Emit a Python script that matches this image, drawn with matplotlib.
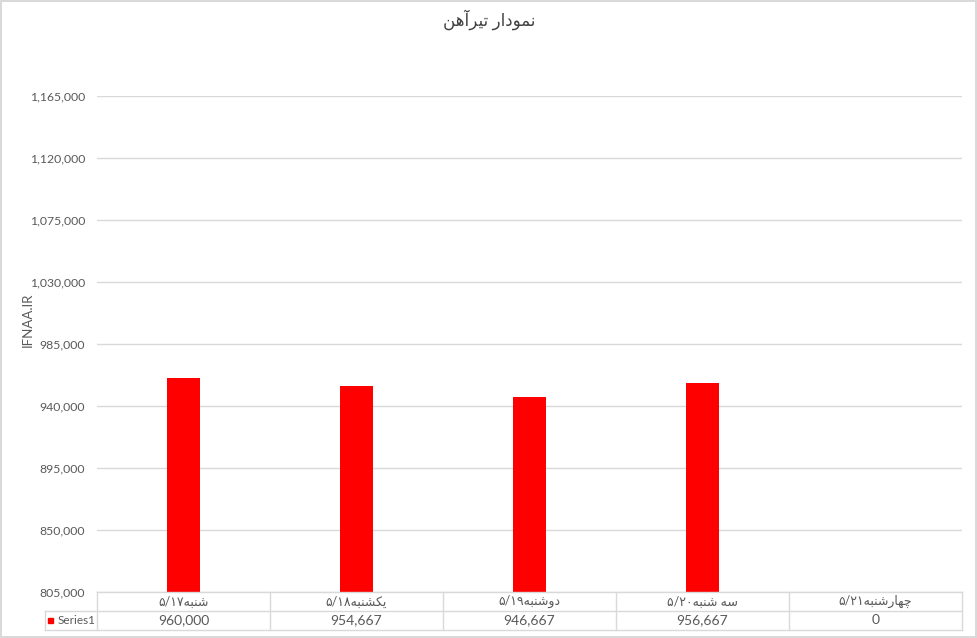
import matplotlib
matplotlib.use('Agg')
import matplotlib.pyplot as plt
from matplotlib.patches import Rectangle

# Persian text is stored already shaped and in visual (left to right) order,
# because matplotlib does no Arabic shaping / bidi on its own.
title = "\ufee6\ufeeb\ufe81\ufeae\ufef4\ufe97 \ufead\ufe8d\ufea9\ufeee\ufee4\ufee7"
y_label = "IFNAA.IR"
days = [
    "\u06f5/\u06f1\u06f7" + "\ufeea\ufe92\ufee8\ufeb7",
    "\u06f5/\u06f1\u06f8" + "\ufeea\ufe92\ufee8\ufeb8\ufedc\ufef3",
    "\u06f5/\u06f1\u06f9" + "\ufeea\ufe92\ufee8\ufeb7\ufeed\ufea9",
    "\u06f5/\u06f2\u06f0" + "\ufeea\ufe92\ufee8\ufeb7 \ufeea\ufeb3",
    "\u06f5/\u06f2\u06f1" + "\ufeea\ufe92\ufee8\ufeb7\ufead\ufe8e\ufeec\ufb7c",
]
series_name = "Series1"
prices = [960000, 954667, 946667, 956667, 0]
y_ticks = [805000, 850000, 895000, 940000, 985000, 1030000, 1075000, 1120000, 1165000]

FONT = ['Lato', 'DejaVu Sans']
GRAY = '#595959'
GRID = '#d9d9d9'
RED = '#ff0000'

fig = plt.figure(figsize=(9.77, 6.38), dpi=100)
fig.patch.set_edgecolor(GRID)
fig.patch.set_linewidth(1.5)

ax = fig.add_axes([97 / 977, 1 - 592 / 638, 865 / 977, 496 / 638])
x = list(range(len(days)))
ax.bar(x, prices, width=0.185, color=RED, zorder=3)
ax.set_xlim(-0.5, len(days) - 0.5)
ax.set_ylim(y_ticks[0], y_ticks[-1])
ax.set_yticks(y_ticks)
ax.set_yticklabels([f"{v:,}" for v in y_ticks], family=FONT, fontsize=8.8, color=GRAY)
ax.set_xticks([])
ax.tick_params(axis='y', length=0, pad=8.5)
ax.yaxis.grid(True, color=GRID, linewidth=1, zorder=0)
for s in ax.spines.values():
    s.set_visible(False)
ax.set_ylabel(y_label, family=FONT, fontsize=9.5, color=GRAY)
ax.yaxis.set_label_coords(-63 / 865, 0.548)

fig.text(489 / 977, 1 - 20 / 638, title, ha='center', va='center',
         family=FONT, fontsize=12, color='#404040')

# data table under the plot
n = len(days)
head = 52 / 173
tab = fig.add_axes([45 / 977, 1 - 630 / 638, 917 / 977, 38 / 638])
tab.set_xlim(-0.5 - head, n - 0.5)
tab.set_ylim(0, 2)
tab.axis('off')
lk = dict(color=GRID, linewidth=1, clip_on=False)
tab.plot([-0.5, n - 0.5], [2, 2], **lk)
tab.plot([-0.5 - head, n - 0.5], [1, 1], **lk)
tab.plot([-0.5 - head, n - 0.5], [0, 0], **lk)
tab.plot([-0.5 - head, -0.5 - head], [0, 1], **lk)
for i in range(n + 1):
    tab.plot([i - 0.5, i - 0.5], [0, 2], **lk)
for i, (d, p) in enumerate(zip(days, prices)):
    tab.text(i, 1.5, d, ha='center', va='center', family=FONT, fontsize=9, color=GRAY)
    tab.text(i, 0.5, f"{p:,}", ha='center', va='center', family=FONT, fontsize=10, color=GRAY)
tab.add_patch(Rectangle((-0.5 - head + 0.017, 0.36), 0.03, 0.28, color=RED, clip_on=False,
                        transform=tab.transData))
tab.text(-0.5 - head + 0.075, 0.5, series_name, ha='left', va='center', family=FONT,
         fontsize=8.5, color=GRAY)

fig.savefig('out.png', dpi=100)
